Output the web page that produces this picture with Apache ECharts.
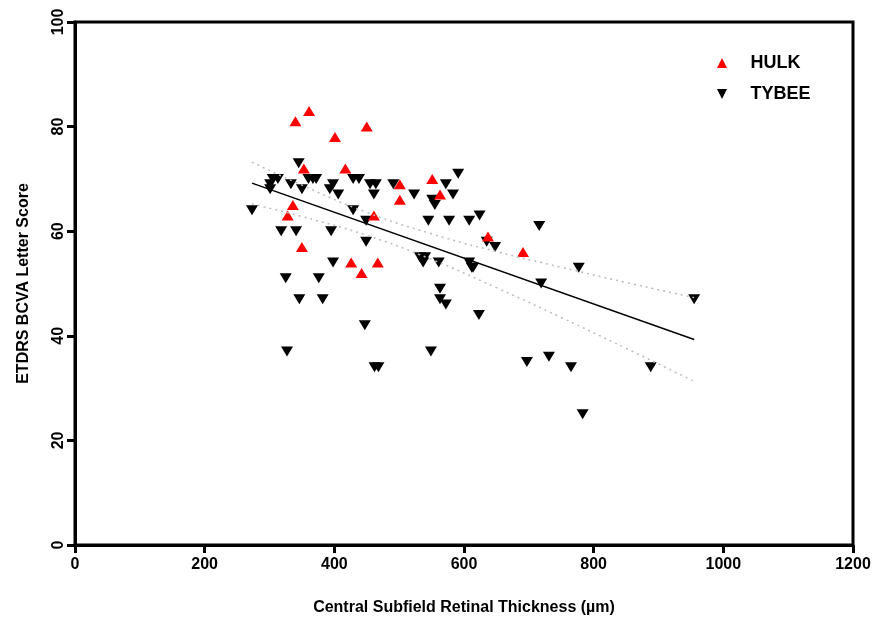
<!DOCTYPE html>
<html>
<head>
<meta charset="utf-8">
<script src="https://cdn.jsdelivr.net/npm/echarts@6/dist/echarts.min.js"></script>
<style>
  html, body { margin: 0; padding: 0; background: #fff; }
  #main { width: 879px; height: 617px; }
</style>
</head>
<body>
<div id="main"></div>
<script>
// points
var hulkX = [361, 340, 450, 401, 417, 353, 551, 501, 563, 501, 336, 328, 461, 637, 350, 691, 426, 467, 442];
var hulkY = [83, 81, 80, 78, 72, 72, 70, 69, 67, 66, 65, 63, 63, 59, 57, 56, 54, 54, 52];

var tybeeX = [273, 345, 305, 313, 301, 301, 333, 350, 360, 367, 372, 398, 393, 406, 429, 438, 455, 464,
  461, 491, 523, 551, 555, 429, 449, 545, 318, 341, 395, 449, 532, 540, 537, 561, 398, 325, 376, 346,
  382, 447, 327, 549, 462, 468, 591, 572, 583, 577, 608, 624, 716, 635, 648, 608, 612, 614, 777, 719,
  563, 563, 572, 623, 697, 731, 765, 955, 888, 783];
var tybeeY = [64, 73, 70, 70, 69, 68, 69, 68, 70, 70, 70, 69, 68, 67, 70, 70, 69, 69,
  67, 69, 67, 66, 65, 64, 62, 62, 60, 60, 60, 58, 55, 55, 54, 54, 54, 51, 51, 47,
  47, 42, 37, 37, 34, 34, 71, 69, 67, 62, 62, 63, 61, 58, 57, 54, 53, 53, 53, 50,
  49, 47, 46, 44, 35, 36, 34, 47, 34, 25];

// fit line and dotted 95% band
var fitX = [273, 955];
var fitY = [69.2, 39.3];
var bandX = [273, 350, 450, 550, 650, 750, 850, 955];
var bandUpper = [73.2, 68.8, 63.6, 59.5, 56.1, 53.1, 50.2, 47.3];
var bandLower = [65.2, 62.8, 59.2, 54.6, 49.2, 43.5, 37.6, 31.3];

var xTicks = [0, 200, 400, 600, 800, 1000, 1200];
var yTicks = [0, 20, 40, 60, 80, 100];

function pairs(xs, ys) {
  return xs.map(function (x, i) { return [x, ys[i]]; });
}

var upIcon = 'path://M5,0 L10,10 L0,10 Z';
var downIcon = 'path://M0,0 L10,0 L5,10 Z';
var font = 'Liberation Sans, Arial, sans-serif';

var chart = echarts.init(document.getElementById('main'));
var option = {
  animation: false,
  backgroundColor: '#fff',
  grid: {
    left: 75, right: 26, top: 22, bottom: 72,
    outerBoundsMode: 'none',
    show: true, borderColor: '#000', borderWidth: 3
  },
  legend: {
    orient: 'vertical',
    left: 712, top: 49,
    itemWidth: 11, itemHeight: 10,
    itemGap: 13,
    textStyle: { fontFamily: font, fontWeight: 'bold', fontSize: 18, color: '#000', padding: [0, 0, 0, 18] },
    data: [
      { name: 'HULK', icon: upIcon, itemStyle: { color: '#ff0000' } },
      { name: 'TYBEE', icon: downIcon, itemStyle: { color: '#000' } }
    ]
  },
  xAxis: {
    type: 'value',
    min: 0, max: 1200, interval: 200,
    name: 'Central Subfield Retinal Thickness (µm)',
    nameLocation: 'middle',
    nameGap: 55,
    nameTextStyle: { fontFamily: font, fontWeight: 'bold', fontSize: 16, color: '#000' },
    axisLine: { show: true, lineStyle: { color: '#000', width: 3 } },
    axisTick: { show: true, inside: false, length: 8, lineStyle: { color: '#000', width: 3 } },
    axisLabel: {
      fontFamily: font, fontWeight: 'bold', fontSize: 16, color: '#000', margin: 12,
      formatter: function (v) { return xTicks.indexOf(v) >= 0 ? String(v) : ''; }
    },
    splitLine: { show: false }
  },
  yAxis: {
    type: 'value',
    min: 0, max: 100, interval: 20,
    name: 'ETDRS BCVA Letter Score',
    nameLocation: 'middle',
    nameGap: 43,
    nameRotate: 90,
    nameTextStyle: { fontFamily: font, fontWeight: 'bold', fontSize: 16, color: '#000' },
    axisLine: { show: true, lineStyle: { color: '#000', width: 3 } },
    axisTick: { show: true, inside: false, length: 8, lineStyle: { color: '#000', width: 3 } },
    axisLabel: {
      rotate: 90, fontFamily: font, fontWeight: 'bold', fontSize: 16, color: '#000', margin: 8,
      formatter: function (v) { return yTicks.indexOf(v) >= 0 ? String(v) : ''; }
    },
    splitLine: { show: false }
  },
  series: [
    {
      name: 'band upper', type: 'line', data: pairs(bandX, bandUpper),
      smooth: true, symbol: 'none', silent: true,
      lineStyle: { color: '#bbbbbb', width: 1.5, type: [2, 4] }
    },
    {
      name: 'band lower', type: 'line', data: pairs(bandX, bandLower),
      smooth: true, symbol: 'none', silent: true,
      lineStyle: { color: '#bbbbbb', width: 1.5, type: [2, 4] }
    },
    {
      name: 'fit', type: 'line', data: pairs(fitX, fitY),
      symbol: 'none', silent: true,
      lineStyle: { color: '#000', width: 1.5 }
    },
    {
      name: 'TYBEE', type: 'scatter', data: pairs(tybeeX, tybeeY),
      symbol: downIcon, symbolSize: [12, 10],
      itemStyle: { color: '#000', opacity: 1 }
    },
    {
      name: 'HULK', type: 'scatter', data: pairs(hulkX, hulkY),
      symbol: upIcon, symbolSize: [12, 10],
      itemStyle: { color: '#ff0000', opacity: 1 }
    }
  ]
};
chart.setOption(option);
</script>
</body>
</html>
